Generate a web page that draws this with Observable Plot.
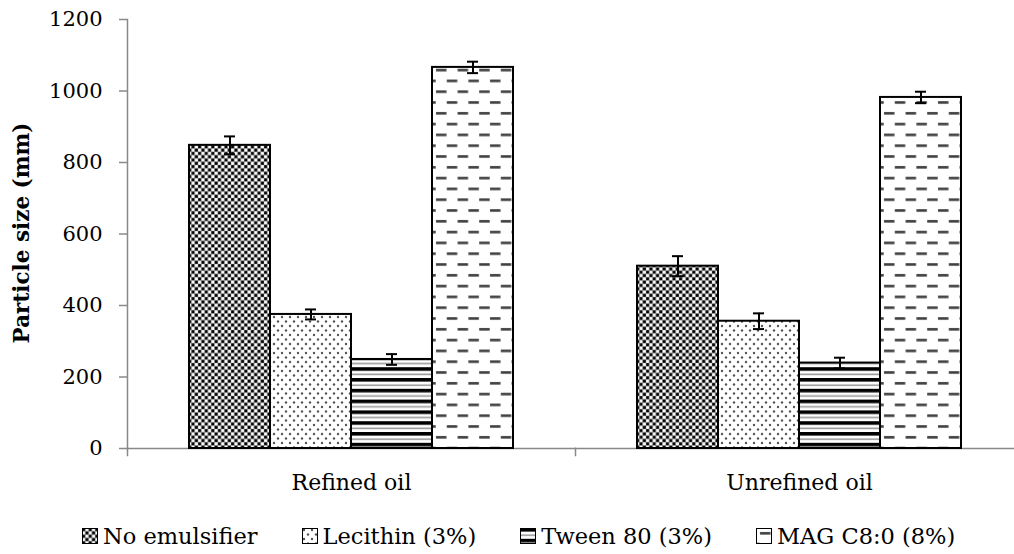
<!DOCTYPE html>
<html><head><meta charset="utf-8">
<script src="https://cdn.jsdelivr.net/npm/d3@7"></script>
<script src="https://cdn.jsdelivr.net/npm/@observablehq/plot@0.6"></script>
<style>
body{margin:0;background:#fff;font-family:"DejaVu Serif",serif;}
#legend{display:flex;height:54px;box-sizing:border-box;padding-top:18px;align-items:center;padding-left:82px;font-size:22.5px;color:#000;}
.item{display:flex;align-items:center;margin-right:44px;white-space:nowrap;}
.item svg{margin-right:5px;}
</style></head><body>
<svg width="0" height="0" style="position:absolute">
<defs>
<pattern id="pat-check" width="6.6" height="6.6" patternUnits="userSpaceOnUse">
<rect width="6.6" height="6.6" fill="#999"/>
<rect x="0.2" y="0.2" width="2.9" height="2.9" fill="#000"/>
<rect x="3.5" y="0.2" width="2.9" height="2.9" fill="#fff"/>
<rect x="0.2" y="3.5" width="2.9" height="2.9" fill="#fff"/>
<rect x="3.5" y="3.5" width="2.9" height="2.9" fill="#000"/>
</pattern>
<pattern id="pat-dots" width="8" height="9" patternUnits="userSpaceOnUse">
<rect width="8" height="9" fill="#fff"/>
<circle cx="2" cy="2" r="1.2" fill="#555"/>
<circle cx="6" cy="6.5" r="1.2" fill="#555"/>
</pattern>
<pattern id="pat-stripes" width="10" height="10.8" patternUnits="userSpaceOnUse">
<rect width="10" height="10.8" fill="#fff"/>
<rect y="0" width="10" height="3.6" fill="#000"/>
<rect y="6.4" width="10" height="1.6" fill="#999"/>
</pattern>
<pattern id="pat-dash" width="21.6" height="21.6" patternUnits="userSpaceOnUse">
<rect width="21.6" height="21.6" fill="#fff"/>
<rect x="4" y="4" width="10.5" height="2.6" fill="#404040"/>
<rect x="14.8" y="14.8" width="6.8" height="2.6" fill="#404040"/>
<rect x="0" y="14.8" width="3.7" height="2.6" fill="#404040"/>
</pattern>
</defs>
</svg>
<div id="chart"></div>
<div id="legend"></div>
<script>
const categories = ["Refined oil", "Unrefined oil"];
const series = ["No emulsifier", "Lecithin (3%)", "Tween 80 (3%)", "MAG C8:0 (8%)"];
const refinedValues = [848, 375, 249, 1066];
const unrefinedValues = [510, 356, 239, 982];
const refinedErrors = [25, 14, 15, 16];
const unrefinedErrors = [28, 22, 15, 16];
const yTicks = [0, 200, 400, 600, 800, 1000, 1200];
const patternIds = ["pat-check", "pat-dots", "pat-stripes", "pat-dash"];

const data = [];
categories.forEach((c, ci) => {
  const vals = ci === 0 ? refinedValues : unrefinedValues;
  const errs = ci === 0 ? refinedErrors : unrefinedErrors;
  series.forEach((s, si) => {
    data.push({category: c, series: s, value: vals[si], err: errs[si], fill: `url(#${patternIds[si]})`});
  });
});

const axisGray = "#898989";
const plot = Plot.plot({
  width: 1014,
  height: 500,
  marginTop: 19,
  marginBottom: 52,
  marginLeft: 127,
  marginRight: 0,
  style: {fontFamily: "DejaVu Serif", fontSize: "21px", color: "#000", background: "#fff"},
  fx: {domain: categories, range: [127, 1023], padding: 0, label: null},
  x: {domain: series, paddingInner: 0, paddingOuter: 0.75, axis: null},
  y: {domain: [0, 1200], label: null},
  color: {type: "identity"},
  marks: [
    Plot.frame({anchor: "bottom", stroke: axisGray, strokeWidth: 1.5}),
    Plot.frame({anchor: "left", facetAnchor: "left", stroke: axisGray, strokeWidth: 1.5}),
    Plot.frame({anchor: "left", insetTop: 429, insetBottom: -7, stroke: axisGray, strokeWidth: 1.5}),
    Plot.axisY({ticks: yTicks, tickSize: 8, tickPadding: 17, stroke: axisGray, strokeWidth: 1.5, tickFormat: d => String(d), label: null}),
    Plot.axisFx({anchor: "bottom", tickSize: 0, tickPadding: 26, fontSize: 22, label: null}),
    Plot.barY(data, {fx: "category", x: "series", y: "value", fill: "fill", stroke: "#000", strokeWidth: 2}),
    Plot.ruleX(data, {fx: "category", x: "series", y1: d => d.value - d.err, y2: d => d.value + d.err, stroke: "#000", strokeWidth: 2}),
    Plot.tickY(data, {fx: "category", x: "series", y: d => d.value - d.err, insetLeft: 35, insetRight: 35, stroke: "#000", strokeWidth: 2}),
    Plot.tickY(data, {fx: "category", x: "series", y: d => d.value + d.err, insetLeft: 35, insetRight: 35, stroke: "#000", strokeWidth: 2})
  ]
});
document.getElementById("chart").appendChild(plot);

// Y-axis title
const svg = d3.select(plot);
svg.append("text")
  .attr("transform", "translate(21,233) rotate(-90)")
  .attr("text-anchor", "middle")
  .attr("dominant-baseline", "central")
  .attr("font-family", "DejaVu Serif")
  .attr("font-weight", "bold")
  .attr("font-size", 21.5)
  .attr("fill", "#000")
  .text("Particle size (mm)");

// Legend
const legend = d3.select("#legend");
series.forEach((s, i) => {
  const item = legend.append("div").attr("class", "item");
  const sw = item.append("svg").attr("width", 16).attr("height", 16);
  sw.append("rect").attr("x", 0.5).attr("y", 0.5).attr("width", 15).attr("height", 15)
    .attr("fill", `url(#${patternIds[i]})`).attr("stroke", "#000").attr("stroke-width", 1);
  item.append("span").text(s);
});
</script>
</body></html>
